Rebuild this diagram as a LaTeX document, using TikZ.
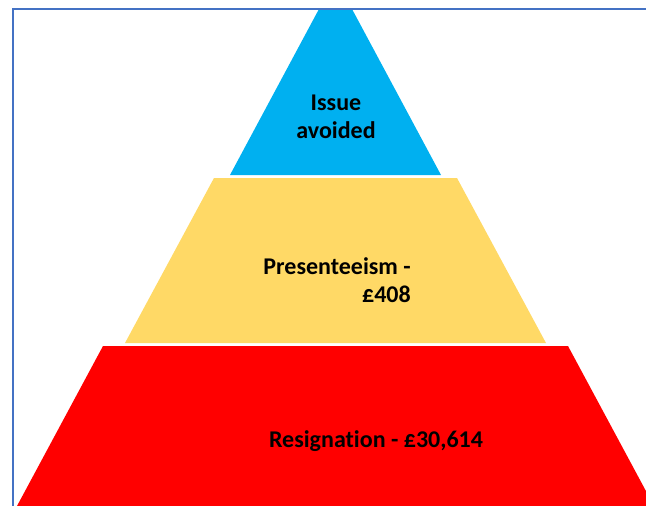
\documentclass[tikz,border=0pt]{standalone}
\usepackage{fontspec}
\setmainfont[Ligatures=NoCommon]{Carlito}
\definecolor{tierblue}{HTML}{00B0F0}
\definecolor{tieryellow}{HTML}{FFD966}
\definecolor{tierred}{HTML}{FF0000}
\definecolor{frameblue}{HTML}{4472C4}
\begin{document}
\begin{tikzpicture}[x=1pt,y=-1pt,
  tier/.style={draw=none},
  lbl/.style={font=\bfseries\fontsize{24}{28}\selectfont, text=black, inner sep=0pt}]
\useasboundingbox (0,0) rectangle (646,506);
\begin{scope}
\clip (0,0) rectangle (646,506);
\fill[tierblue] (319,9) -- (352,9) -- (441,175) -- (230,175) -- cycle;
\fill[tieryellow] (214,178) -- (457,178) -- (546,343) -- (125,343) -- cycle;
\fill[tierred] (103,346) -- (568,346) -- (654,506) -- (17,506) -- cycle;
\draw[frameblue, line width=2pt] (12.5,520) -- (12.5,8.5) -- (660,8.5);
\end{scope}
\node[lbl, align=center] (issue) at (336,116.5) {Issue\\avoided};
\node[lbl, align=right, anchor=east] (pres) at (411,280.5) {Presenteeism -\\£408};
\node[lbl] (resig) at (376,441.5) {Resignation - £30,614};
\end{tikzpicture}
\end{document}
